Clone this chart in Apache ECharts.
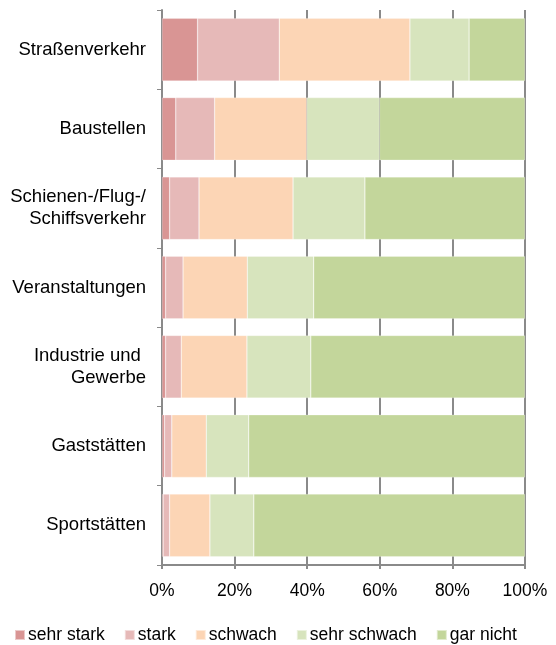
<!DOCTYPE html>
<html>
<head>
<meta charset="utf-8">
<script src="https://cdn.jsdelivr.net/npm/echarts@6/dist/echarts.min.js"></script>
<style>
  html, body { margin: 0; padding: 0; background: #fff; }
  #chart { width: 556px; height: 645px; }
</style>
</head>
<body>
<div id="chart"></div>
<script>
// Kategorien von oben nach unten
const categories = ['Straßenverkehr', 'Baustellen', 'Schienen-/Flug-/\nSchiffsverkehr', 'Veranstaltungen', 'Industrie und \nGewerbe', 'Gaststätten', 'Sportstätten']
const seriesNames = ['sehr stark', 'stark', 'schwach', 'sehr schwach', 'gar nicht']
const sehrStark = [9.8, 3.8, 2.1, 1.0, 1.0, 0.7, 0.3]
const stark = [22.5, 10.7, 8.1, 4.8, 4.3, 2.0, 1.8]
const schwach = [36.0, 25.4, 25.9, 17.7, 18.1, 9.5, 11.1]
const sehrSchwach = [16.3, 20.0, 19.8, 18.3, 17.6, 11.7, 12.1]
const garNicht = [15.4, 40.1, 44.1, 58.2, 59.0, 76.1, 74.7]
const colors = ['#D99594', '#E6B9B8', '#FCD5B5', '#D7E4BD', '#C3D69B']

const chart = echarts.init(document.getElementById('chart'))
const values = [sehrStark, stark, schwach, sehrSchwach, garNicht]

const option = {
  animation: false,
  textStyle: { fontFamily: 'Liberation Sans, Arial, sans-serif' },
  grid: { left: 162, right: 31, top: 10, bottom: 80 },
  legend: {
    top: 621,
    left: 9,
    itemWidth: 10,
    itemHeight: 10,
    itemGap: 19,
    icon: 'rect',
    textStyle: { fontSize: 17.5, color: '#000', padding: [0, 0, 0, -2] },
    data: seriesNames
  },
  xAxis: {
    type: 'value',
    min: 0,
    max: 100,
    interval: 20,
    axisLine: { show: true, lineStyle: { color: '#8a8a8a', width: 2 } },
    axisTick: { show: true, length: 4, lineStyle: { color: '#8a8a8a', width: 2 } },
    splitLine: { show: true, lineStyle: { color: '#8a8a8a', width: 2 } },
    axisLabel: { fontSize: 17.5, color: '#000', margin: 17, formatter: '{value}%' }
  },
  yAxis: {
    type: 'category',
    inverse: true,
    data: categories,
    axisLine: { show: true, lineStyle: { color: '#8a8a8a', width: 2 } },
    axisTick: { show: true, length: 5, lineStyle: { color: '#8a8a8a', width: 1 } },
    axisLabel: { fontSize: 18.5, color: '#000', margin: 16, lineHeight: 22, align: 'right' }
  },
  series: seriesNames.map((name, i) => ({
    name: name,
    type: 'bar',
    stack: 'gesamt',
    barCategoryGap: '21%',
    itemStyle: { color: colors[i], borderColor: 'rgba(255,255,255,0.5)', borderWidth: 0.5 },
    data: values[i]
  }))
}

chart.setOption(option)
</script>
</body>
</html>
